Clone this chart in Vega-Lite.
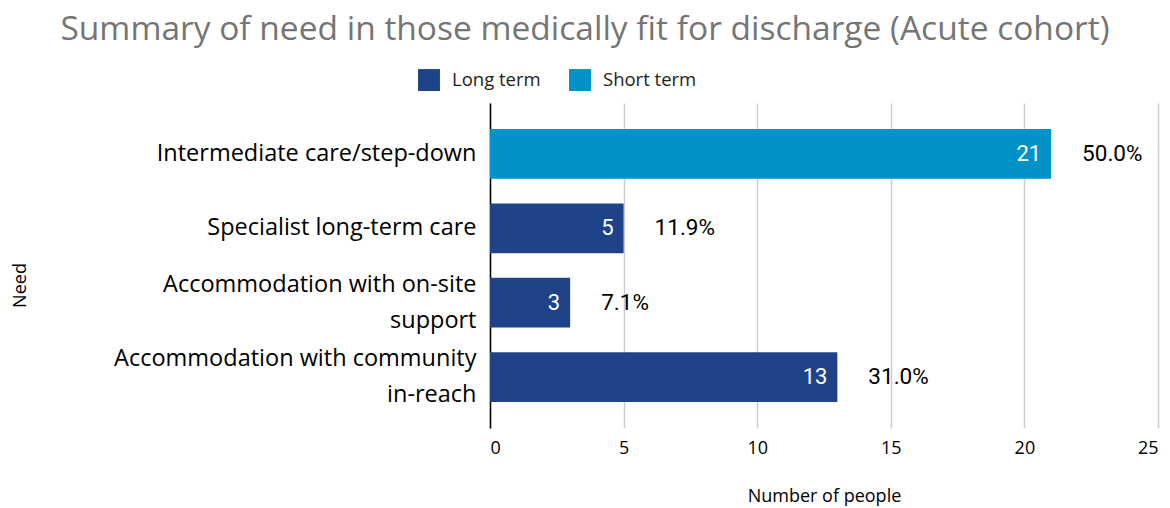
{
  "$schema": "https://vega.github.io/schema/vega-lite/v6.json",
  "width": 668,
  "height": 325,
  "autosize": "none",
  "padding": {"left": 490, "top": 103, "right": 12, "bottom": 80},
  "background": "white",
  "config": {"view": {"stroke": null}, "font": "Open Sans"},
  "title": {
    "text": "Summary of need in those medically fit for discharge (Acute cohort)",
    "fontSize": 33.5,
    "font": "Open Sans",
    "fontWeight": "normal",
    "color": "#757575",
    "anchor": "middle",
    "frame": "group",
    "dx": -239,
    "offset": 22
  },
  "data": {
    "values": [
      {"need": "Intermediate care/step-down", "term": "Short term", "people": 21, "pct": "50.0%"},
      {"need": "Specialist long-term care", "term": "Long term", "people": 5, "pct": "11.9%"},
      {"need": "Accommodation with on-site support", "term": "Long term", "people": 3, "pct": "7.1%"},
      {"need": "Accommodation with community in-reach", "term": "Long term", "people": 13, "pct": "31.0%"}
    ]
  },
  "encoding": {
    "y": {
      "field": "need",
      "type": "nominal",
      "sort": null,
      "scale": {"paddingInner": 0.33, "paddingOuter": 0.35},
      "axis": {
        "title": "Need",
        "titleFontSize": 18,
        "titleFontWeight": "normal",
        "titleColor": "#000000",
        "titleFont": "Open Sans",
        "titleX": -470,
        "titleY": 182,
        "titleAngle": -90,
        "titleAlign": "center",
        "titleBaseline": "middle",
        "labelFontSize": 23.5,
        "labelColor": "#000000",
        "labelFont": "Open Sans",
        "labelLineHeight": 36,
        "labelPadding": 14,
        "labelLimit": 500,
        "labelOffset": {"expr": "length(datum.value) > 30 ? -18 : 0"},
        "ticks": false,
        "domainColor": "#000000",
        "domainWidth": 1.5,
        "labelExpr": "datum.value == 'Accommodation with on-site support' ? ['Accommodation with on-site', 'support'] : datum.value == 'Accommodation with community in-reach' ? ['Accommodation with community', 'in-reach'] : datum.value"
      }
    },
    "x": {
      "field": "people",
      "type": "quantitative",
      "scale": {"domain": [0, 25]},
      "axis": {
        "title": "Number of people",
        "titleFontSize": 18,
        "titleFontWeight": "normal",
        "titleColor": "#000000",
        "titleFont": "Open Sans",
        "titlePadding": 30,
        "labelFontSize": 18,
        "labelColor": "#000000",
        "labelFont": "Open Sans",
        "labelPadding": 11,
        "values": [0, 5, 10, 15, 20, 25],
        "domain": false,
        "ticks": false,
        "grid": true,
        "gridColor": "#cccccc",
        "gridWidth": 1.5
      }
    }
  },
  "layer": [
    {
      "mark": {"type": "bar"},
      "encoding": {
        "color": {
          "field": "term",
          "type": "nominal",
          "scale": {"domain": ["Long term", "Short term"], "range": ["#1f4389", "#0092c8"]},
          "legend": {
            "title": null,
            "orient": "none",
            "direction": "horizontal",
            "legendX": -72,
            "legendY": -34,
            "symbolType": "square",
            "symbolSize": 480,
            "symbolStrokeWidth": 0,
            "labelFontSize": 18.5,
            "labelFont": "Open Sans",
            "labelColor": "#222222",
            "labelOffset": 12,
            "columnPadding": 28
          }
        }
      }
    },
    {
      "mark": {"type": "text", "align": "right", "dx": -10, "color": "white", "fontSize": 22, "font": "Roboto"},
      "encoding": {"text": {"field": "people", "type": "quantitative"}}
    },
    {
      "mark": {"type": "text", "align": "left", "dx": 31, "color": "#000000", "fontSize": 22.5, "font": "Roboto"},
      "encoding": {"text": {"field": "pct", "type": "nominal"}}
    }
  ]
}
